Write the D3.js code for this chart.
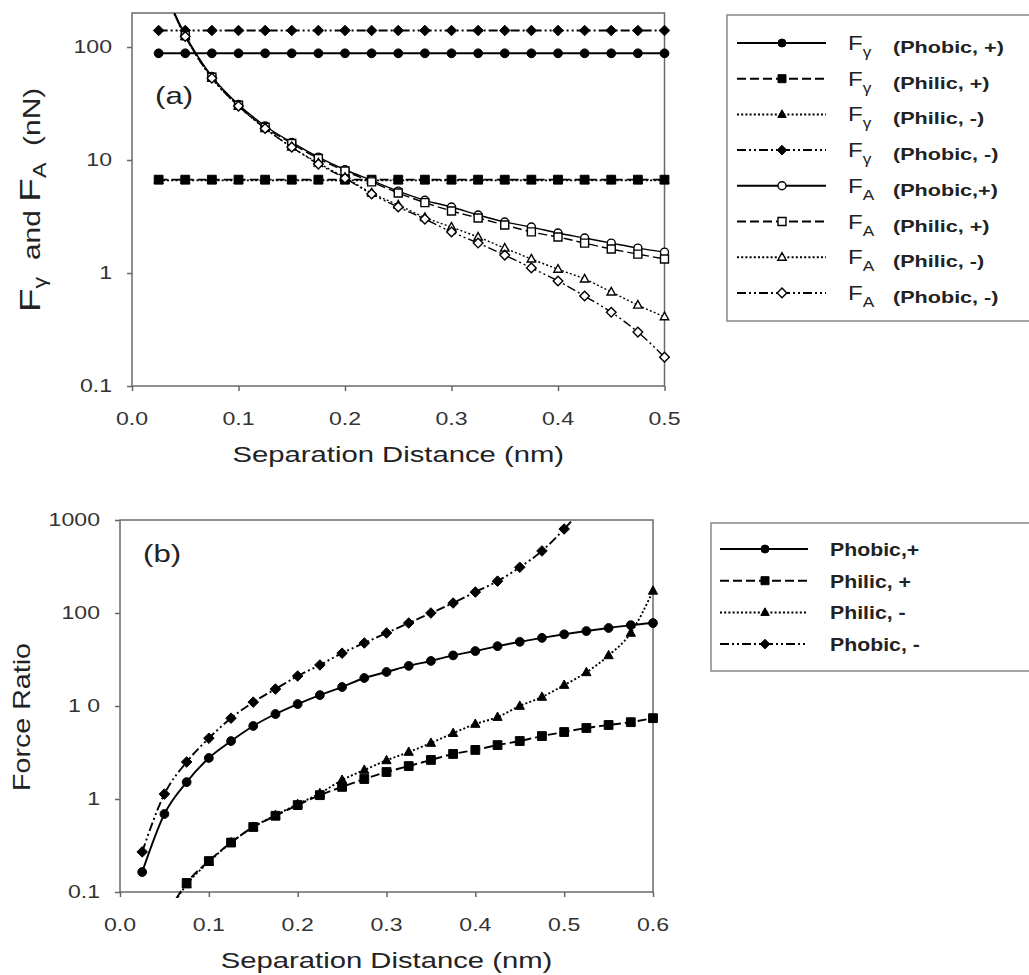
<!DOCTYPE html>
<html>
<head>
<meta charset="utf-8">
<script src="https://cdn.jsdelivr.net/npm/d3@7"></script>
<style>
  body { margin: 0; background: #fff; }
  text { font-family: "Liberation Sans", Arial, sans-serif; fill: #222; white-space: pre; }
</style>
</head>
<body>
<svg id="chart" width="1029" height="975"></svg>
<script>
// ---- data: panel (a) ----
const distA = [0.025, 0.05, 0.075, 0.1, 0.125, 0.15, 0.175, 0.2, 0.225, 0.25,
               0.275, 0.3, 0.325, 0.35, 0.375, 0.4, 0.425, 0.45, 0.475, 0.5];
const fyPhobicPos = [88, 88, 88, 88, 88, 88, 88, 88, 88, 88, 88, 88, 88, 88, 88, 88, 88, 88, 88, 88];
const fyPhilicPos = [6.7, 6.7, 6.7, 6.7, 6.7, 6.7, 6.7, 6.7, 6.7, 6.7, 6.7, 6.7, 6.7, 6.7, 6.7, 6.7, 6.7, 6.7, 6.7, 6.7];
const fyPhilicNeg = [6.6, 6.6, 6.6, 6.6, 6.6, 6.6, 6.6, 6.6, 6.6, 6.6, 6.6, 6.6, 6.6, 6.6, 6.6, 6.6, 6.6, 6.6, 6.6, 6.6];
const fyPhobicNeg = [140, 140, 140, 140, 140, 140, 140, 140, 140, 140, 140, 140, 140, 140, 140, 140, 140, 140, 140, 140];
const faPhobicPos = [420, 128, 55, 31, 20, 14.3, 10.6, 8.2, 6.6, 5.3, 4.4, 3.84, 3.26, 2.83, 2.55, 2.26, 2.04, 1.84, 1.66, 1.53];
const faPhilicPos = [410, 126, 54, 30.5, 19.5, 14, 10.3, 8.0, 6.4, 5.1, 4.2, 3.54, 3.07, 2.66, 2.31, 2.08, 1.84, 1.63, 1.47, 1.33];
const faPhilicNeg = [400, 124, 53, 30, 19, 13, 9.4, 7.0, 5.1, 4.0, 3.1, 2.55, 2.08, 1.66, 1.33, 1.08, 0.885, 0.68, 0.52, 0.41];
const faPhobicNeg = [400, 124, 53, 30, 19, 13, 9.2, 6.9, 5.0, 3.84, 3.0, 2.31, 1.84, 1.44, 1.11, 0.85, 0.625, 0.45, 0.30, 0.18];

// ---- data: panel (b) ----
const distB = [0.025, 0.05, 0.075, 0.1, 0.125, 0.15, 0.175, 0.2, 0.225, 0.25, 0.275, 0.3,
               0.325, 0.35, 0.375, 0.4, 0.425, 0.45, 0.475, 0.5, 0.525, 0.55, 0.575, 0.6];
const ratioPhobicPos = [0.164, 0.69, 1.52, 2.76, 4.2, 6.1, 8.2, 10.5, 13.1, 16, 20, 23.2,
                        27, 30.5, 35, 39, 44, 49, 54, 59, 64, 69, 74, 78];
const ratioPhilicPos = [0.015, 0.05, 0.125, 0.215, 0.34, 0.5, 0.66, 0.86, 1.1, 1.35, 1.64, 1.95,
                        2.26, 2.63, 3.05, 3.37, 3.8, 4.2, 4.75, 5.25, 5.8, 6.25, 6.7, 7.4];
const ratioPhilicNeg = [0.015, 0.05, 0.12, 0.21, 0.34, 0.5, 0.67, 0.88, 1.15, 1.6, 2.05, 2.6,
                        3.2, 4.0, 5.1, 6.4, 7.6, 10, 12.5, 16.8, 23, 35, 61, 173];
const ratioPhobicNeg = [0.27, 1.13, 2.5, 4.5, 7.4, 11, 15.2, 21, 27.6, 37, 47.6, 61,
                        78, 100, 128, 168, 220, 310, 465, 800, 1500, null, null, null];

const xTicksA = [0, 0.1, 0.2, 0.3, 0.4, 0.5];
const xTicksB = [0, 0.1, 0.2, 0.3, 0.4, 0.5, 0.6];
const yTicksA = [0.1, 1, 10, 100];
const yLabelsA = ['0.1', '1', '10', '100'];
const yTicksB = [0.1, 1, 10, 100, 1000];
const yLabelsB = ['0.1', '1', '1 0', '100', '1000'];

// ---- styles ----
const dashes = { solid: null, dash: '9,4', dot: '2,2.2', dashdot: '9,3,2,3,2,3' };

const seriesA = [
  { sub: 'γ', label: '(Phobic, +)', values: fyPhobicPos, shape: 'circle', filled: true, dash: 'solid' },
  { sub: 'γ', label: '(Philic, +)', values: fyPhilicPos, shape: 'square', filled: true, dash: 'dash' },
  { sub: 'γ', label: '(Philic, -)', values: fyPhilicNeg, shape: 'triangle', filled: true, dash: 'dot' },
  { sub: 'γ', label: '(Phobic, -)', values: fyPhobicNeg, shape: 'diamond', filled: true, dash: 'dashdot' },
  { sub: 'A', label: '(Phobic,+)', values: faPhobicPos, shape: 'circle', filled: false, dash: 'solid' },
  { sub: 'A', label: '(Philic, +)', values: faPhilicPos, shape: 'square', filled: false, dash: 'dash' },
  { sub: 'A', label: '(Philic, -)', values: faPhilicNeg, shape: 'triangle', filled: false, dash: 'dot' },
  { sub: 'A', label: '(Phobic, -)', values: faPhobicNeg, shape: 'diamond', filled: false, dash: 'dashdot' },
];

const seriesB = [
  { label: 'Phobic,+', values: ratioPhobicPos, shape: 'circle', filled: true, dash: 'solid' },
  { label: 'Philic, +', values: ratioPhilicPos, shape: 'square', filled: true, dash: 'dash' },
  { label: 'Philic, -', values: ratioPhilicNeg, shape: 'triangle', filled: true, dash: 'dot' },
  { label: 'Phobic, -', values: ratioPhobicNeg, shape: 'diamond', filled: true, dash: 'dashdot' },
];

const svg = d3.select('#chart');

// marker path centred on 0,0
function markerPath(shape, s) {
  if (shape === 'circle') return d3.symbol(d3.symbolCircle, Math.PI * s * s)();
  if (shape === 'square') return `M${-s},${-s}H${s}V${s}H${-s}Z`;
  if (shape === 'triangle') return `M0,${-s * 1.15}L${s * 1.05},${s * 0.75}L${-s * 1.05},${s * 0.75}Z`;
  return `M0,${-s * 1.2}L${s * 1.2},0L0,${s * 1.2}L${-s * 1.2},0Z`;
}

function drawMarker(g, shape, filled, s) {
  return g.append('path')
    .attr('d', markerPath(shape, s))
    .attr('fill', filled ? '#000' : '#fff')
    .attr('stroke', '#000')
    .attr('stroke-width', filled ? 1 : 1.4);
}

// stretched text helper
function label(g, x, y, txt, size, sx, anchor, weight) {
  return g.append('text')
    .attr('transform', `translate(${x},${y}) scale(${sx},1)`)
    .attr('text-anchor', anchor || 'start')
    .attr('font-size', size)
    .attr('font-weight', weight || 'normal')
    .text(txt);
}

function drawPanel(cfg) {
  const x = d3.scaleLinear().domain(cfg.xDomain).range([cfg.left, cfg.right]);
  const y = d3.scaleLog().domain(cfg.yDomain).range([cfg.bottom, cfg.top]);
  const g = svg.append('g');

  // ticks
  const ax = g.append('g').attr('transform', `translate(0,${cfg.bottom})`)
    .call(d3.axisBottom(x).tickValues(cfg.xTicks).tickSize(5).tickFormat(''));
  const ay = g.append('g').attr('transform', `translate(${cfg.left},0)`)
    .call(d3.axisLeft(y).tickValues(cfg.yTicks).tickSize(5).tickFormat(''));
  [ax, ay].forEach(a => {
    a.select('.domain').remove();
    a.selectAll('line').attr('stroke', '#666').attr('stroke-width', 1.5);
  });

  // frame
  g.append('rect')
    .attr('x', cfg.left).attr('y', cfg.top)
    .attr('width', cfg.right - cfg.left).attr('height', cfg.bottom - cfg.top)
    .attr('fill', 'none').attr('stroke', '#6a6a6a').attr('stroke-width', 1.5);

  // tick labels
  cfg.xTicks.forEach(t => label(g, x(t), cfg.bottom + 39, d3.format('.1f')(t), 17.5, 1.32, 'middle')
    .style('fill', '#333'));
  cfg.yTicks.forEach((t, i) => label(g, cfg.left - 20, y(t) + 6, cfg.yLabels[i], 17.5, 1.32, 'end')
    .style('fill', '#333'));

  // axis title
  label(g, (cfg.left + cfg.right) / 2, cfg.bottom + 76, 'Separation Distance (nm)', 21.5, 1.36, 'middle');

  // panel tag
  label(g, cfg.tag.x, cfg.tag.y, cfg.tag.text, 24, 1.3, 'start');

  // series, clipped to the plot frame
  const clipId = 'clip-' + cfg.id;
  svg.append('clipPath').attr('id', clipId).append('rect')
    .attr('x', cfg.left - 6).attr('y', cfg.top)
    .attr('width', cfg.right - cfg.left + 12).attr('height', cfg.bottom - cfg.top + 6);
  const plot = g.append('g').attr('clip-path', `url(#${clipId})`);

  const line = d3.line()
    .defined(d => d[1] != null)
    .x(d => x(d[0])).y(d => y(d[1]))
    .curve(d3.curveMonotoneX);

  cfg.series.forEach(s => {
    const pts = cfg.xs.map((v, i) => [v, s.values[i]]);
    plot.append('path')
      .attr('d', line(pts))
      .attr('fill', 'none')
      .attr('stroke', '#000')
      .attr('stroke-width', s.filled ? 1.9 : 1.4)
      .attr('stroke-dasharray', dashes[s.dash]);
    pts.filter(p => p[1] != null).forEach(p => {
      drawMarker(plot.append('g').attr('transform', `translate(${x(p[0])},${y(p[1])})`),
        s.shape, s.filled, s.filled ? 4.4 : 4);
    });
  });
  return g;
}

// ---- panel (a) ----
drawPanel({
  id: 'a', xs: distA, series: seriesA,
  xDomain: [0, 0.5], yDomain: [0.1, 200],
  left: 132, right: 664.5, top: 13, bottom: 386,
  xTicks: xTicksA, yTicks: yTicksA, yLabels: yLabelsA,
  tag: { text: '(a)', x: 155, y: 104 }
});

// y title (a)
const ta = svg.append('text')
  .attr('transform', 'translate(40,200) rotate(-90) scale(1.3,1)')
  .attr('text-anchor', 'middle');
ta.append('tspan').attr('font-size', 30).text('F');
ta.append('tspan').attr('font-size', 18).attr('dy', 6).text('γ');
ta.append('tspan').attr('font-size', 23).attr('dy', -6).text('  and ');
ta.append('tspan').attr('font-size', 30).text('F');
ta.append('tspan').attr('font-size', 18).attr('dy', 6).text('A');
ta.append('tspan').attr('font-size', 23).attr('dy', -6).text('  (nN)');

// legend (a)
const legA = svg.append('g');
legA.append('rect').attr('x', 727).attr('y', 15).attr('width', 340).attr('height', 306)
  .attr('fill', 'none').attr('stroke', '#888').attr('stroke-width', 1.5);
seriesA.forEach((s, i) => {
  const ry = 43 + i * 35.7;
  legA.append('line').attr('x1', 737).attr('x2', 826).attr('y1', ry).attr('y2', ry)
    .attr('stroke', '#000').attr('stroke-width', 2).attr('stroke-dasharray', dashes[s.dash]);
  drawMarker(legA.append('g').attr('transform', `translate(782,${ry})`), s.shape, s.filled, 4);
  const t = legA.append('text').attr('transform', `translate(848,${ry + 7}) scale(1.15,1)`);
  t.append('tspan').attr('font-size', 21).text('F');
  t.append('tspan').attr('font-size', 15).attr('dy', 7).text(s.sub);
  label(legA, 893, ry + 10, s.label, 17, 1.27, 'start', 'bold');
});

// ---- panel (b) ----
drawPanel({
  id: 'b', xs: distB, series: seriesB,
  xDomain: [0, 0.6], yDomain: [0.1, 1000],
  left: 120, right: 653, top: 520, bottom: 892,
  xTicks: xTicksB, yTicks: yTicksB, yLabels: yLabelsB,
  tag: { text: '(b)', x: 143, y: 562 }
});

svg.append('text')
  .attr('transform', 'translate(30,717) rotate(-90) scale(1.22,1)')
  .attr('text-anchor', 'middle')
  .attr('font-size', 23.5)
  .text('Force Ratio');

// legend (b)
const legB = svg.append('g');
legB.append('rect').attr('x', 711).attr('y', 523).attr('width', 340).attr('height', 148)
  .attr('fill', 'none').attr('stroke', '#888').attr('stroke-width', 1.5);
seriesB.forEach((s, i) => {
  const ry = 549 + i * 31.7;
  legB.append('line').attr('x1', 720).attr('x2', 808).attr('y1', ry).attr('y2', ry)
    .attr('stroke', '#000').attr('stroke-width', 2).attr('stroke-dasharray', dashes[s.dash]);
  drawMarker(legB.append('g').attr('transform', `translate(765,${ry})`), s.shape, s.filled, 4);
  label(legB, 830, ry + 7, s.label, 19, 1.12, 'start', 'bold');
});
</script>
</body>
</html>
